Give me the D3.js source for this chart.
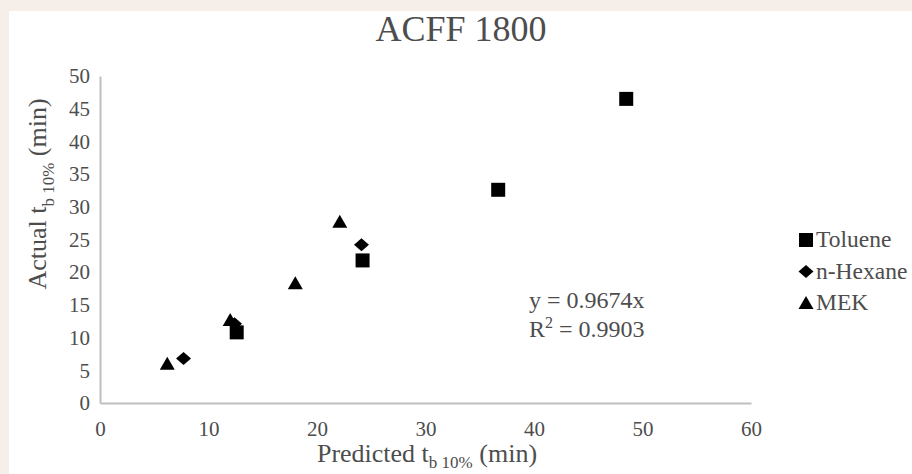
<!DOCTYPE html>
<html>
<head>
<meta charset="utf-8">
<script src="https://cdn.jsdelivr.net/npm/d3@7"></script>
<style>
  html, body { margin: 0; padding: 0; background: #f6efe9; }
  #chart { position: absolute; left: 0; top: 0; width: 912px; height: 474px; }
</style>
</head>
<body>
<div id="chart"></div>
<script>
// data
var seriesNames = ["Toluene", "n-Hexane", "MEK"];
var toluenePred = [12.6, 24.2, 36.7, 48.5];
var tolueneAct  = [10.8, 21.8, 32.6, 46.5];
var hexanePred  = [7.7, 12.4, 24.1];
var hexaneAct   = [6.8, 12.1, 24.2];
var mekPred     = [6.2, 12.0, 18.0, 22.1];
var mekAct      = [6.0, 12.7, 18.3, 27.7];
var xTicks = [0, 10, 20, 30, 40, 50, 60];
var yTicks = [0, 5, 10, 15, 20, 25, 30, 35, 40, 45, 50];
var fitLabel = "y = 0.9674x";
var r2Label = "0.9903";

var FONT = "Liberation Serif";
var TXT = "#4d4d4d";
var W = 912, H = 474;
var margin = {top: 76, right: 161, bottom: 71, left: 100};
var width = W - margin.left - margin.right;
var height = H - margin.top - margin.bottom;

var svg = d3.select("#chart").append("svg")
    .attr("width", W)
    .attr("height", H);

// white panel
svg.append("rect")
    .attr("x", 9).attr("y", 11)
    .attr("width", W - 9).attr("height", H - 11)
    .attr("fill", "#ffffff");

svg.append("text")
    .attr("x", 461).attr("y", 41)
    .attr("text-anchor", "middle")
    .attr("font-family", FONT)
    .attr("font-size", 36)
    .attr("fill", TXT)
    .text("ACFF 1800");

var g = svg.append("g")
    .attr("transform", "translate(" + margin.left + "," + margin.top + ")");

var x = d3.scaleLinear().domain([0, 60]).range([0, width]);
var y = d3.scaleLinear().domain([0, 50]).range([height, 0]);

var xAxis = g.append("g")
    .attr("transform", "translate(0," + height + ")")
    .call(d3.axisBottom(x).tickValues(xTicks).tickSize(0).tickPadding(18));
var yAxis = g.append("g")
    .call(d3.axisLeft(y).tickValues(yTicks).tickSize(0).tickPadding(10));

[xAxis, yAxis].forEach(function(a) {
    a.attr("font-family", FONT).attr("font-size", 21);
    a.select(".domain").attr("stroke", "#bfbfbf").attr("stroke-width", 2);
    a.selectAll("text").attr("fill", TXT);
});

// marker shapes (custom so the diamond and triangle keep Excel-like proportions)
function markerPath(kind) {
    if (kind == "Toluene") return "M-7,-7H7V7H-7Z";
    if (kind == "n-Hexane") return "M0,-6.5L7.5,0L0,6.5L-7.5,0Z";
    return "M0,-7L7.5,6H-7.5Z";
}

var series = [
    {name: seriesNames[0], xs: toluenePred, ys: tolueneAct},
    {name: seriesNames[1], xs: hexanePred, ys: hexaneAct},
    {name: seriesNames[2], xs: mekPred, ys: mekAct}
];

series.forEach(function(s) {
    g.selectAll(null)
        .data(s.xs.map(function(v, i) { return [v, s.ys[i]]; }))
        .enter()
        .append("path")
        .attr("d", markerPath(s.name))
        .attr("transform", function(d) { return "translate(" + x(d[0]) + "," + y(d[1]) + ")"; })
        .attr("fill", "#000000");
});

// equation
var eq = svg.append("g").attr("font-family", FONT).attr("fill", TXT);
eq.append("text")
    .attr("x", 529).attr("y", 308)
    .attr("font-size", 24)
    .text(fitLabel);
var r2 = eq.append("text")
    .attr("x", 529).attr("y", 337)
    .attr("font-size", 24);
r2.append("tspan").text("R");
r2.append("tspan").attr("dy", -9).attr("font-size", 16).text("2");
r2.append("tspan").attr("dy", 9).text(" = " + r2Label);

// legend
var legend = svg.append("g")
    .attr("transform", "translate(806,240)")
    .attr("font-family", FONT)
    .attr("fill", TXT);
seriesNames.forEach(function(n, i) {
    var row = legend.append("g").attr("transform", "translate(0," + (i * 31.5) + ")");
    row.append("path").attr("d", markerPath(n)).attr("fill", "#000");
    row.append("text")
        .attr("x", 10).attr("y", 7)
        .attr("font-size", 23.5)
        .text(n);
});

// axis titles with subscripts
var xt = svg.append("text")
    .attr("x", 427).attr("y", 462)
    .attr("text-anchor", "middle")
    .attr("font-family", FONT)
    .attr("fill", TXT)
    .attr("font-size", 26);
xt.append("tspan").text("Predicted t");
xt.append("tspan").attr("dy", 6).attr("font-size", 17).text("b 10%");
xt.append("tspan").attr("dy", -6).text(" (min)");

var yt = svg.append("text")
    .attr("transform", "translate(46,194) rotate(-90)")
    .attr("text-anchor", "middle")
    .attr("font-family", FONT)
    .attr("fill", TXT)
    .attr("font-size", 26);
yt.append("tspan").text("Actual t");
yt.append("tspan").attr("dy", 8).attr("font-size", 17).text("b 10%");
yt.append("tspan").attr("dy", -8).text(" (min)");
</script>
</body>
</html>
